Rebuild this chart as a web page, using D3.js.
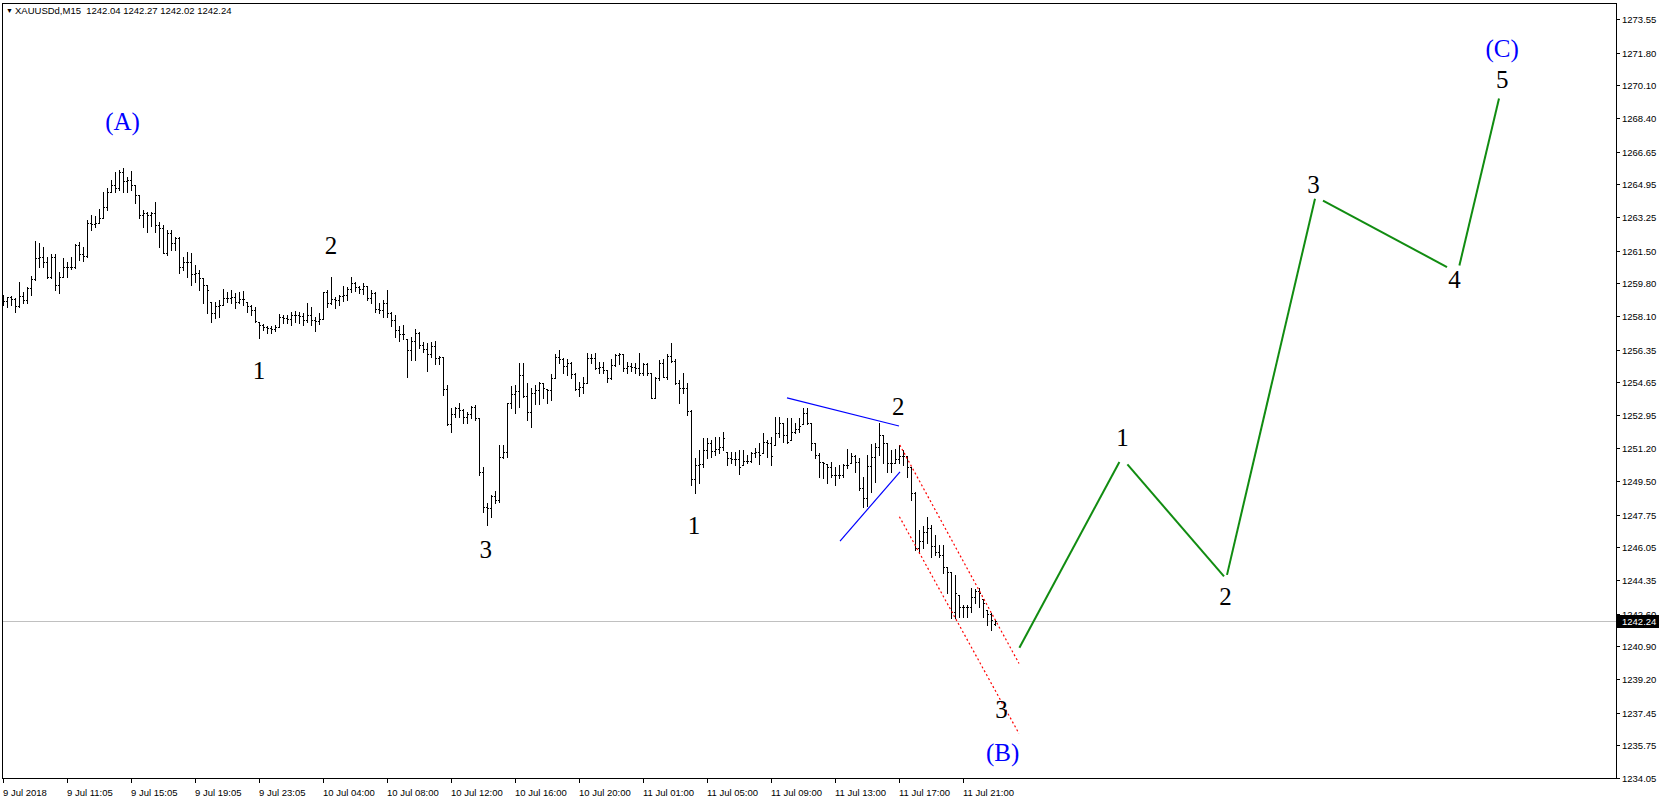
<!DOCTYPE html>
<html><head><meta charset="utf-8">
<script src="https://cdn.jsdelivr.net/npm/d3@7"></script>
<style>html,body{margin:0;padding:0;background:#fff;overflow:hidden}</style>
</head><body>
<svg id="c" width="1659" height="803"></svg>
<script>
// ---- data (XAUUSDd, M15) ----
const opens=[1258.92,1258.89,1259.06,1259.00,1258.63,1259.15,1258.92,1259.56,1260.00,1261.09,
1261.18,1260.88,1260.14,1261.18,1259.70,1260.14,1260.66,1260.66,1260.66,1261.78,
1261.32,1261.21,1262.95,1262.88,1262.95,1263.17,1263.78,1264.56,1264.91,1264.73,
1265.60,1265.12,1265.17,1264.91,1264.39,1263.35,1263.43,1263.35,1263.43,1262.83,
1262.65,1261.35,1262.39,1261.87,1262.13,1260.66,1260.92,1260.92,1260.28,1260.31,
1260.05,1259.71,1258.84,1258.23,1258.61,1258.66,1259.01,1259.05,1259.10,1258.84,
1258.98,1258.84,1258.61,1258.40,1257.80,1257.62,1257.50,1257.45,1257.40,1257.54,
1258.06,1257.97,1257.94,1258.14,1258.14,1258.09,1257.88,1258.14,1257.88,1257.83,
1257.92,1259.36,1258.75,1258.96,1258.93,1259.13,1259.19,1259.48,1259.80,1259.59,
1259.48,1259.66,1259.01,1259.31,1258.44,1258.41,1258.75,1258.23,1257.89,1257.37,
1257.16,1256.88,1256.33,1256.81,1257.19,1256.58,1256.36,1256.12,1256.53,1255.89,
1255.94,1254.28,1252.47,1253.00,1253.29,1253.20,1252.86,1253.00,1253.38,1252.77,
1249.99,1248.17,1248.08,1248.73,1248.52,1250.77,1251.03,1253.55,1254.03,1254.21,
1255.03,1253.93,1253.12,1254.07,1254.25,1254.59,1254.28,1254.25,1254.85,1255.95,
1255.84,1255.50,1255.64,1255.08,1254.28,1254.42,1254.63,1255.90,1255.90,1255.37,
1255.43,1255.29,1254.85,1255.55,1256.07,1256.12,1255.37,1255.50,1255.43,1255.37,
1255.15,1255.60,1255.15,1253.85,1254.85,1255.64,1254.94,1256.02,1255.77,1254.63,
1254.33,1254.33,1253.17,1249.60,1250.34,1250.40,1251.12,1251.50,1251.08,1251.15,
1251.26,1251.03,1250.68,1250.63,1250.63,1250.34,1250.56,1250.56,1250.94,1251.03,
1250.94,1251.55,1251.50,1251.38,1252.02,1252.50,1251.90,1251.64,1252.07,1252.19,
1252.47,1253.06,1252.50,1251.50,1250.86,1250.51,1250.39,1250.25,1249.82,1249.82,
1249.82,1250.34,1250.42,1250.80,1250.51,1249.12,1248.60,1250.30,1250.77,1251.26,
1251.90,1251.47,1250.46,1250.46,1250.63,1250.81,1250.81,1250.25,1248.90,1246.00,
1246.40,1246.87,1247.04,1246.12,1245.83,1245.65,1245.05,1244.79,1242.70,1243.57,
1242.96,1242.93,1242.93,1243.48,1243.80,1243.35,1242.79,1242.58,1242.04];
const highs=[1259.18,1259.10,1259.13,1259.01,1259.84,1259.36,1259.58,1260.17,1261.99,1261.87,
1261.70,1261.18,1261.32,1261.32,1260.36,1261.09,1260.92,1261.18,1261.82,1261.96,
1261.66,1263.09,1263.35,1263.29,1263.64,1264.56,1264.73,1265.17,1265.60,1265.69,
1265.78,1265.34,1265.65,1264.91,1264.39,1263.61,1263.52,1263.52,1264.04,1263.00,
1262.83,1262.57,1262.57,1262.18,1262.19,1261.18,1261.44,1261.35,1260.75,1260.49,
1260.05,1259.71,1258.84,1258.84,1258.93,1259.48,1259.36,1259.45,1259.27,1259.36,
1259.41,1258.84,1258.66,1258.58,1257.80,1257.68,1257.57,1257.57,1257.62,1258.20,
1258.14,1258.14,1258.32,1258.37,1258.32,1258.23,1258.79,1258.58,1258.06,1258.23,
1259.36,1259.45,1260.10,1259.10,1259.19,1259.65,1259.58,1260.11,1259.88,1259.66,
1259.80,1259.66,1259.45,1259.36,1258.79,1258.93,1259.45,1258.32,1258.15,1257.57,
1257.63,1256.88,1256.98,1257.40,1257.28,1256.76,1256.71,1256.76,1256.81,1256.01,
1255.98,1254.50,1253.29,1253.34,1253.55,1253.24,1253.12,1253.41,1253.46,1252.77,
1250.25,1248.34,1248.78,1249.00,1251.38,1251.38,1253.58,1254.45,1254.51,1255.64,
1255.64,1254.59,1254.33,1254.51,1254.68,1254.59,1254.28,1255.08,1256.12,1256.33,
1255.90,1255.84,1255.72,1255.11,1254.68,1254.94,1256.16,1256.12,1256.19,1255.72,
1255.72,1255.29,1255.84,1256.12,1256.16,1256.12,1255.72,1255.64,1255.64,1256.16,
1255.67,1255.67,1255.15,1254.94,1255.81,1255.84,1256.12,1256.68,1255.84,1254.77,
1255.15,1254.63,1253.21,1250.69,1251.12,1251.72,1251.72,1251.64,1251.81,1251.81,
1252.07,1251.03,1251.03,1251.03,1251.12,1251.12,1250.86,1251.03,1251.20,1251.46,
1251.98,1251.64,1251.81,1252.82,1252.82,1252.50,1252.77,1252.77,1252.50,1252.77,
1253.29,1253.29,1252.50,1251.50,1250.94,1250.51,1250.39,1250.51,1250.25,1250.34,
1250.39,1251.15,1250.94,1250.86,1250.68,1249.70,1250.85,1251.43,1251.47,1252.51,
1251.90,1251.47,1251.12,1251.15,1251.38,1251.12,1250.81,1250.25,1248.95,1246.95,
1247.16,1247.65,1247.21,1246.69,1246.17,1246.17,1245.05,1244.79,1244.61,1243.57,
1243.05,1243.05,1243.92,1243.87,1243.92,1243.35,1242.79,1242.62,1242.27];
const lows=[1258.66,1258.54,1258.66,1258.32,1258.58,1258.75,1258.75,1259.18,1259.96,1260.66,
1260.66,1260.05,1260.05,1259.44,1259.27,1260.14,1260.10,1260.52,1260.57,1261.00,
1260.97,1261.14,1262.57,1262.70,1262.91,1263.17,1263.61,1264.56,1264.56,1264.65,
1264.56,1264.56,1264.65,1263.95,1263.17,1262.74,1262.48,1262.77,1262.48,1261.70,
1261.35,1261.26,1261.53,1261.53,1260.31,1260.49,1260.14,1259.71,1259.88,1259.45,
1258.75,1258.23,1257.80,1257.97,1258.06,1258.66,1258.84,1258.75,1258.49,1258.75,
1258.66,1258.32,1258.14,1257.80,1256.93,1257.36,1257.22,1257.19,1257.33,1257.54,
1257.74,1257.71,1257.62,1257.80,1257.71,1257.62,1257.80,1257.62,1257.33,1257.68,
1257.92,1258.58,1258.71,1258.49,1258.66,1258.90,1258.93,1259.36,1259.41,1259.27,
1259.24,1258.93,1258.79,1258.32,1258.23,1258.06,1258.06,1257.57,1257.02,1256.81,
1256.88,1254.94,1255.80,1255.80,1256.41,1256.24,1255.25,1255.98,1255.60,1255.60,
1253.98,1252.42,1252.07,1252.82,1252.86,1252.51,1252.51,1252.77,1252.68,1249.82,
1247.91,1247.22,1247.65,1248.34,1248.43,1250.69,1250.74,1253.29,1253.07,1253.38,
1253.90,1252.69,1252.34,1253.52,1253.52,1253.81,1253.55,1253.73,1254.85,1255.64,
1255.15,1255.03,1254.85,1254.25,1253.93,1254.11,1254.63,1255.64,1255.32,1255.11,
1255.15,1254.68,1254.80,1255.50,1255.60,1255.25,1255.15,1255.25,1255.15,1255.03,
1255.03,1255.03,1253.81,1253.81,1254.77,1254.94,1254.80,1255.72,1254.56,1253.59,
1254.07,1252.95,1249.30,1248.90,1249.39,1250.25,1250.68,1250.77,1250.86,1250.94,
1251.12,1250.34,1250.42,1250.34,1249.87,1250.34,1250.42,1250.51,1250.77,1250.39,
1250.94,1250.77,1250.34,1251.38,1251.81,1251.55,1251.50,1251.64,1251.98,1252.07,
1252.47,1252.47,1251.12,1250.68,1249.69,1249.64,1249.42,1249.69,1249.30,1249.64,
1249.73,1250.16,1250.42,1250.00,1249.03,1248.17,1248.20,1248.95,1249.47,1250.86,
1250.42,1249.99,1249.99,1250.42,1250.42,1250.34,1249.73,1248.52,1245.91,1245.74,
1246.00,1246.26,1245.53,1245.65,1245.57,1244.70,1243.66,1242.36,1242.36,1242.44,
1242.44,1242.44,1242.70,1243.17,1242.96,1242.44,1242.01,1241.75,1242.02];
const closes=[1258.89,1259.06,1259.00,1258.63,1259.15,1258.92,1259.56,1260.00,1261.09,1261.18,
1260.88,1260.14,1261.18,1259.70,1260.14,1260.66,1260.66,1260.66,1261.78,1261.32,
1261.21,1262.95,1262.88,1262.95,1263.17,1263.78,1264.56,1264.91,1264.73,1265.60,
1265.12,1265.17,1264.91,1264.39,1263.35,1263.43,1263.35,1263.43,1262.83,1262.65,
1261.35,1262.39,1261.87,1262.13,1260.66,1260.92,1260.92,1260.28,1260.31,1260.05,
1259.71,1259.45,1258.23,1258.61,1258.66,1259.01,1259.05,1259.10,1258.84,1258.98,
1258.98,1258.61,1258.40,1257.85,1257.62,1257.50,1257.45,1257.40,1257.54,1258.06,
1257.97,1257.94,1258.14,1258.14,1258.09,1257.88,1258.14,1257.88,1257.83,1257.92,
1259.36,1258.75,1258.96,1258.93,1259.13,1259.19,1259.48,1259.80,1259.59,1259.48,
1259.66,1259.01,1259.31,1258.44,1258.41,1258.75,1258.23,1257.89,1257.37,1257.16,
1257.16,1256.33,1256.81,1257.19,1256.58,1256.36,1256.12,1256.53,1255.89,1255.94,
1254.28,1252.47,1253.00,1253.29,1253.20,1252.86,1253.00,1253.38,1252.77,1249.99,
1248.17,1248.08,1248.73,1248.52,1250.77,1251.03,1253.55,1254.03,1254.21,1255.03,
1253.93,1253.12,1254.07,1254.25,1254.63,1254.33,1254.25,1254.85,1255.95,1255.84,
1255.50,1255.64,1255.08,1254.28,1254.42,1254.63,1255.90,1255.90,1255.37,1255.43,
1255.29,1254.85,1255.55,1256.07,1256.12,1255.37,1255.50,1255.43,1255.37,1255.15,
1255.60,1255.15,1253.85,1254.85,1255.64,1254.94,1256.02,1255.77,1254.63,1254.33,
1254.33,1253.17,1249.60,1250.34,1250.40,1251.12,1251.50,1251.08,1251.15,1251.26,
1251.72,1250.68,1250.63,1250.63,1250.21,1250.56,1250.56,1250.94,1251.03,1250.86,
1251.55,1251.50,1250.80,1252.02,1252.50,1251.90,1251.55,1252.07,1252.19,1252.37,
1253.06,1252.54,1251.50,1250.86,1250.51,1250.46,1250.25,1249.82,1249.82,1249.82,
1250.34,1250.34,1250.80,1250.51,1249.12,1248.60,1250.30,1250.77,1251.26,1251.90,
1251.47,1250.46,1250.46,1250.63,1250.81,1250.81,1250.25,1248.90,1246.00,1246.40,
1246.87,1247.04,1246.12,1245.83,1245.65,1245.05,1244.79,1242.70,1243.66,1242.96,
1242.93,1242.93,1243.48,1243.80,1243.66,1243.17,1242.58,1242.27,1242.24];

const timeTickBars=[0,16,32,48,64,80,96,112,128,144,160,176,192,208,224,240];
const timeTickLabels=["9 Jul 2018","9 Jul 11:05","9 Jul 15:05","9 Jul 19:05","9 Jul 23:05",
"10 Jul 04:00","10 Jul 08:00","10 Jul 12:00","10 Jul 16:00","10 Jul 20:00",
"11 Jul 01:00","11 Jul 05:00","11 Jul 09:00","11 Jul 13:00","11 Jul 17:00","11 Jul 21:00"];
const priceTicks=[1273.55,1271.80,1270.10,1268.40,1266.65,1264.95,1263.25,1261.50,1259.80,1258.10,
1256.35,1254.65,1252.95,1251.20,1249.50,1247.75,1246.05,1244.35,1242.60,1240.90,1239.20,1237.45,1235.75,1234.05];
const priceDomain=[1234.05,1273.55];
const symbolName="XAUUSDd,M15";
const lastBar=[1242.04,1242.27,1242.02,1242.24];
const bidPrice=1242.24;

// projected wave (bar index, price) - separate segments
const greenWave=[
 [[254.1,1240.83],[279.1,1250.50]],
 [[281.1,1250.37],[305.25,1244.54]],
 [[306.0,1244.62],[328.0,1264.20]],
 [[330.0,1264.10],[361.0,1260.64]],
 [[364.1,1260.72],[374.0,1269.41]]];
const blueLines=[[[196,1253.83],[224,1252.37]],[[209.25,1246.38],[224.25,1249.98]]];
const redChannel=[[[224.2,1251.38],[254,1240.01]],[[224.1,1247.65],[254,1236.36]]];
const waveLabels=[
 {t:"(A)",i:29.9,p:1268.20,c:"#0000ff"},
 {t:"1",i:64,p:1255.27,c:"#000"},
 {t:"2",i:82,p:1261.76,c:"#000"},
 {t:"3",i:120.7,p:1245.96,c:"#000"},
 {t:"1",i:172.75,p:1247.18,c:"#000"},
 {t:"2",i:223.8,p:1253.39,c:"#000"},
 {t:"3",i:249.6,p:1237.64,c:"#000"},
 {t:"(B)",i:249.9,p:1235.38,c:"#0000ff"},
 {t:"1",i:279.9,p:1251.77,c:"#000"},
 {t:"2",i:305.6,p:1243.50,c:"#000"},
 {t:"3",i:327.6,p:1264.96,c:"#000"},
 {t:"4",i:362.9,p:1259.97,c:"#000"},
 {t:"5",i:374.8,p:1270.40,c:"#000"},
 {t:"(C)",i:374.8,p:1272.02,c:"#0000ff"}];

// ---- drawing ----
const svg=d3.select("#c");
const N=closes.length;
const x=d3.scaleLinear().domain([0,N-1]).range([3,3+4*(N-1)]);
const y=d3.scaleLinear().domain(priceDomain).range([778,19]);
const L=2,R=1616,T=3,B=778;
const axisFont="'Liberation Sans', Arial, sans-serif";
const axisSize=9.5;

svg.append("rect").attr("width",1659).attr("height",803).attr("fill","#fff");

// bid line
svg.append("line").attr("x1",L).attr("x2",R).attr("y1",Math.round(y(bidPrice))+0.5).attr("y2",Math.round(y(bidPrice))+0.5)
 .attr("stroke","#c0c0c0").attr("stroke-width",1);

// bars
const bars=svg.append("g").attr("shape-rendering","crispEdges").attr("fill","#000");
d3.range(N).forEach(i=>{
  const xi=Math.round(x(i));
  const yh=Math.round(y(highs[i])), yl=Math.round(y(lows[i]));
  bars.append("rect").attr("x",xi).attr("y",yh).attr("width",1).attr("height",Math.max(1,yl-yh+1));
  bars.append("rect").attr("x",xi-1).attr("y",Math.round(y(opens[i]))).attr("width",1).attr("height",1);
  bars.append("rect").attr("x",xi+1).attr("y",Math.round(y(closes[i]))).attr("width",1).attr("height",1);
});

const line=d3.line().x(d=>x(d[0])).y(d=>y(d[1]));
blueLines.forEach(s=>svg.append("path").attr("d",line(s)).attr("stroke","#0000ff").attr("stroke-width",1.2).attr("fill","none"));
redChannel.forEach(s=>svg.append("path").attr("d",line(s)).attr("stroke","#ff0000").attr("stroke-width",1.2).attr("stroke-dasharray","2,2.5").attr("fill","none"));
greenWave.forEach(s=>svg.append("path").attr("d",line(s)).attr("stroke","#118c11").attr("stroke-width",2).attr("fill","none"));

waveLabels.forEach(d=>svg.append("text").attr("x",x(d.i)).attr("y",y(d.p)).attr("text-anchor","middle")
  .attr("dominant-baseline","central").attr("font-family","'Liberation Serif','Times New Roman',serif")
  .attr("font-size",25).attr("fill",d.c).text(d.t));

// frame
svg.append("rect").attr("x",L+0.5).attr("y",T+0.5).attr("width",R-L).attr("height",B-T)
 .attr("fill","none").attr("stroke","#000").attr("stroke-width",1).attr("shape-rendering","crispEdges");

// price axis
const pa=svg.append("g");
priceTicks.forEach(p=>{
  const yy=Math.round(y(p))+0.5;
  pa.append("line").attr("x1",R).attr("x2",R+4).attr("y1",yy).attr("y2",yy).attr("stroke","#000").attr("shape-rendering","crispEdges");
  pa.append("text").attr("x",R+6).attr("y",yy).attr("dominant-baseline","central").attr("font-family",axisFont)
    .attr("font-size",axisSize).attr("fill","#000").text(d3.format(".2f")(p));
});
// bid label
const by=Math.round(y(bidPrice));
pa.append("rect").attr("x",R+1).attr("y",by-6).attr("width",1659-R-1).attr("height",13).attr("fill","#000");
pa.append("text").attr("x",R+6).attr("y",by+0.5).attr("dominant-baseline","central").attr("font-family",axisFont)
  .attr("font-size",axisSize).attr("fill","#fff").text(d3.format(".2f")(bidPrice));

// time axis
const ta=svg.append("g");
timeTickBars.forEach((b,k)=>{
  const xx=Math.round(x(b))+0.5;
  ta.append("line").attr("x1",xx).attr("x2",xx).attr("y1",B).attr("y2",B+5).attr("stroke","#000").attr("shape-rendering","crispEdges");
  ta.append("text").attr("x",xx-0.5).attr("y",B+14).attr("dominant-baseline","central").attr("font-family",axisFont)
    .attr("font-size",axisSize).attr("fill","#000").text(timeTickLabels[k]);
});

// header
svg.append("text").attr("x",6).attr("y",10.5).attr("dominant-baseline","central").attr("font-family",axisFont)
 .attr("font-size",7).attr("fill","#000").text("\u25BC");
svg.append("text").attr("x",15).attr("y",10.5).attr("dominant-baseline","central").attr("font-family",axisFont)
 .attr("font-size",axisSize).attr("fill","#000").attr("xml:space","preserve")
 .text(symbolName+"  "+lastBar.map(d3.format(".2f")).join(" "));
</script>
</body></html>
